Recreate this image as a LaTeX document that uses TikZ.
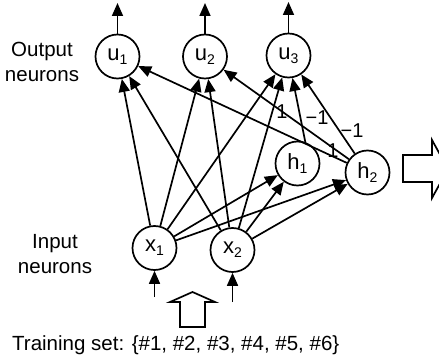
\documentclass[tikz,border=0pt]{standalone}
\usepackage{fontspec}
\setmainfont{Liberation Sans}
\usetikzlibrary{arrows.meta}
\newcommand{\nsub}[2]{#1\raisebox{-0.35ex}{\fontsize{14}{14}\selectfont #2}}
\begin{document}
\begin{tikzpicture}[x=1pt,y=-1pt,
  neuron/.style={circle,draw,line width=1.7pt,minimum size=44pt,inner sep=0pt,
    font=\fontsize{22}{24}\selectfont},
  conn/.style={line width=1.7pt,-{Triangle[length=13pt,width=11pt]}},
  lbl/.style={font=\fontsize{20.5}{25}\selectfont,inner sep=0pt},
  wlbl/.style={font=\fontsize{20}{22}\selectfont,inner sep=0pt},
  hollow/.style={line width=1.7pt,fill=white,line join=miter}]
\clip (0,0) rectangle (439,358);
% neurons
\node[neuron] (u1) at (117.5,56.5) {\nsub{u}{1}};
\node[neuron] (u2) at (205,56.5) {\nsub{u}{2}};
\node[neuron] (u3) at (288.5,55.5) {\nsub{u}{3}};
\node[neuron] (h1) at (297.5,163.5) {\nsub{h}{1}};
\node[neuron] (h2) at (367.5,172.5) {\nsub{h}{2}};
\node[neuron] (x1) at (154.5,248) {\nsub{x}{1}};
\node[neuron] (x2) at (232.5,250) {\nsub{x}{2}};
% free ends
\coordinate (o1) at (117.5,3);
\coordinate (o2) at (205,3);
\coordinate (o3) at (288.5,2);
\coordinate (i1) at (154.5,297);
\coordinate (i2) at (232.5,302);
% outputs and inputs
\draw[conn] (u1) -- (o1);
\draw[conn] (u2) -- (o2);
\draw[conn] (u3) -- (o3);
\draw[conn] (i1) -- (x1);
\draw[conn] (i2) -- (x2);
% connections
\foreach \s in {x1,x2}{
  \foreach \t in {u1,u2,u3,h1,h2}{
    \draw[conn] (\s) -- (\t);
  }
}
\draw[conn] (h1.70) -- (u3.-80);
\draw[conn] (h2) -- (u1);
\draw[conn] (h2) -- (u2);
\draw[conn] (h2) -- (u3);
% weights
\node[wlbl] (w1) at (282,112) {1};
\node[wlbl] (w2) at (317,118) {−1};
\node[wlbl] (w3) at (352,131) {−1};
\node[wlbl] (w4) at (333,151) {1};
% text
\node[lbl,align=center] (outl) at (42,62) {Output\\neurons};
\node[lbl,align=center] (inl) at (55,254) {Input\\neurons};
\node[lbl,anchor=base west] (train) at (12,350) {Training set: \{\#1, \#2, \#3, \#4, \#5, \#6\}};
% hollow arrows
\draw[hollow] (180,327) -- (180,302) -- (170,302) -- (192.5,292) -- (215,302)
  -- (205,302) -- (205,327) -- cycle;
\draw[hollow] (403,155) -- (432,155) -- (432,140) -- (448,169) -- (432,198)
  -- (432,182) -- (403,182) -- cycle;
\end{tikzpicture}
\end{document}
